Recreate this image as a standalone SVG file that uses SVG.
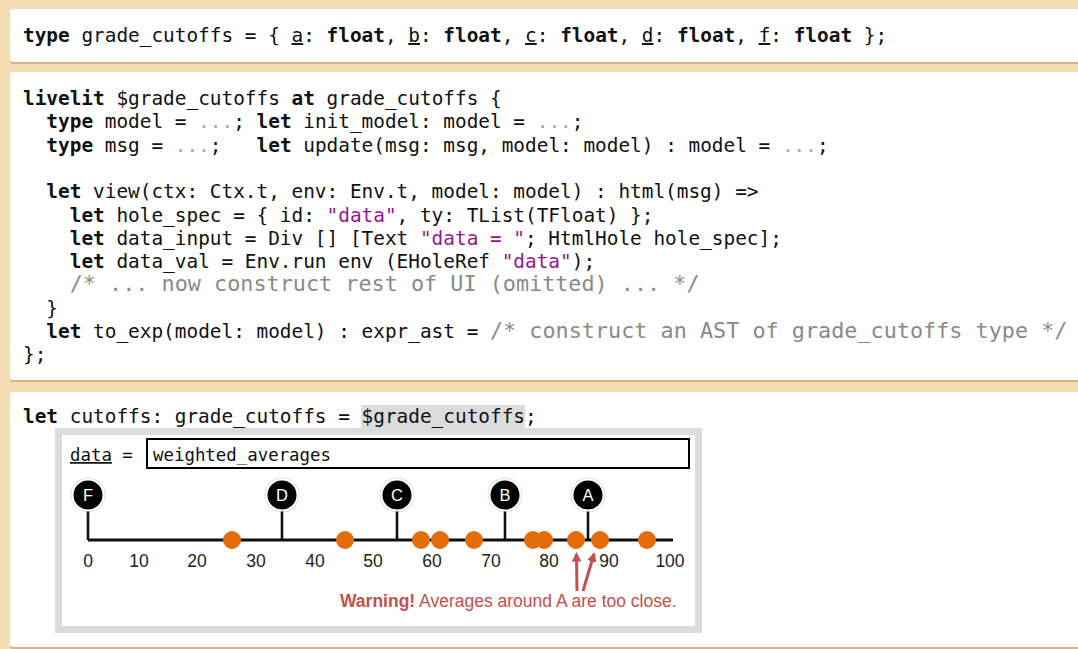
<svg xmlns="http://www.w3.org/2000/svg" width="1078" height="649" viewBox="0 0 1078 649">
  <style>
    .mono { font-family: "DejaVu Sans Mono", monospace; font-size: 19.4px; fill: #111; white-space: pre; }
    .kw { font-weight: bold; }
    .str { fill: #93168f; }
    .dim { fill: #a8a8a8; }
    .cmt { fill: #8a8a8a; font-size: 21.8px; }
    .ul { text-decoration: underline; }
    .panel { fill: #ffffff; }
    .pshadow { fill: #d4b58c; }
    .sans { font-family: "Liberation Sans", Arial, sans-serif; }
    .tick { font-size: 17.5px; fill: #222; text-anchor: middle; }
    .glabel { font-size: 16.5px; fill: #fff; text-anchor: middle; }
    .dot { fill: #e46c0a; }
    .stem { stroke: #111; stroke-width: 2.6; fill: none; }
    .warn { fill: #c4504c; }
  </style>
  <defs>
    <marker id="warnHead" viewBox="0 0 10 10" refX="8" refY="5" markerWidth="3.2" markerHeight="3.2" orient="auto">
      <path d="M0,0 L10,5 L0,10 z" fill="#c4504c"/>
    </marker>
    <g id="grade">
      <circle r="17.5" fill="#000" opacity="0.12"/>
      <circle r="16.5" fill="#fff"/>
      <circle r="14.5" fill="#000"/>
    </g>
  </defs>

  <!-- page background -->
  <rect x="0" y="0" width="1078" height="649" fill="#f5deb3"/>

  <!-- type declaration -->
  <g id="type-decl">
    <rect class="pshadow" x="10" y="11" width="1080" height="53" rx="3"/>
    <rect class="panel" x="10" y="9" width="1080" height="53" rx="3"/>
    <text class="mono" x="23" y="42" xml:space="preserve"><tspan class="kw">type</tspan> grade_cutoffs = { <tspan class="ul">a</tspan>: <tspan class="kw">float</tspan>, <tspan class="ul">b</tspan>: <tspan class="kw">float</tspan>, <tspan class="ul">c</tspan>: <tspan class="kw">float</tspan>, <tspan class="ul">d</tspan>: <tspan class="kw">float</tspan>, <tspan class="ul">f</tspan>: <tspan class="kw">float</tspan> };</text>
  </g>

  <!-- livelit definition -->
  <g id="livelit-def">
    <rect class="pshadow" x="10" y="74" width="1080" height="308" rx="3"/>
    <rect class="panel" x="10" y="72" width="1080" height="308" rx="3"/>
    <g class="mono">
      <text x="23" y="105" xml:space="preserve"><tspan class="kw">livelit</tspan> $grade_cutoffs <tspan class="kw">at</tspan> grade_cutoffs {</text>
      <text x="23" y="128.3" xml:space="preserve">  <tspan class="kw">type</tspan> model = <tspan class="dim">...</tspan>; <tspan class="kw">let</tspan> init_model: model = <tspan class="dim">...</tspan>;</text>
      <text x="23" y="151.6" xml:space="preserve">  <tspan class="kw">type</tspan> msg = <tspan class="dim">...</tspan>;   <tspan class="kw">let</tspan> update(msg: msg, model: model) : model = <tspan class="dim">...</tspan>;</text>
      <text x="23" y="198.2" xml:space="preserve">  <tspan class="kw">let</tspan> view(ctx: Ctx.t, env: Env.t, model: model) : html(msg) =&gt;</text>
      <text x="23" y="221.5" xml:space="preserve">    <tspan class="kw">let</tspan> hole_spec = { id: <tspan class="str">"data"</tspan>, ty: TList(TFloat) };</text>
      <text x="23" y="244.8" xml:space="preserve">    <tspan class="kw">let</tspan> data_input = Div [] [Text <tspan class="str">"data = "</tspan>; HtmlHole hole_spec];</text>
      <text x="23" y="268.1" xml:space="preserve">    <tspan class="kw">let</tspan> data_val = Env.run env (EHoleRef <tspan class="str">"data"</tspan>);</text>
      <text x="23" y="291.4" xml:space="preserve">    <tspan class="cmt">/* ... now construct rest of UI (omitted) ... */</tspan></text>
      <text x="23" y="314.7" xml:space="preserve">  }</text>
      <text x="23" y="338" xml:space="preserve">  <tspan class="kw">let</tspan> to_exp(model: model) : expr_ast = <tspan class="cmt">/* construct an AST of grade_cutoffs type */</tspan></text>
      <text x="23" y="361.3" xml:space="preserve">};</text>
    </g>
  </g>

  <!-- usage with embedded livelit GUI -->
  <g id="usage">
    <rect class="pshadow" x="10" y="394" width="1080" height="255" rx="3"/>
    <rect class="panel" x="10" y="392" width="1080" height="255" rx="3"/>
    <rect x="361" y="405" width="164" height="25" fill="#dcdcdc"/>
    <text class="mono" x="23" y="423" xml:space="preserve"><tspan class="kw">let</tspan> cutoffs: grade_cutoffs = $grade_cutoffs;</text>
  </g>

  <g id="livelit-gui">
    <rect x="58.5" y="431.5" width="640" height="198" fill="#fff" stroke="#dcdcdc" stroke-width="7"/>
    <text class="mono" x="70" y="461" style="font-size:17.4px" xml:space="preserve"><tspan class="ul">data</tspan> =</text>
    <rect x="147" y="439" width="542" height="29" fill="#fff" stroke="#000" stroke-width="2"/>
    <text class="mono" x="153" y="461" style="font-size:17.4px">weighted_averages</text>
  </g>

  <!-- number line -->
  <g id="axis">
    <line x1="88" y1="540" x2="673" y2="540" stroke="#111" stroke-width="3"/>
    <g class="sans tick">
      <text x="88" y="567">0</text>
      <text x="139" y="567">10</text>
      <text x="197" y="567">20</text>
      <text x="256" y="567">30</text>
      <text x="315" y="567">40</text>
      <text x="373" y="567">50</text>
      <text x="432" y="567">60</text>
      <text x="491" y="567">70</text>
      <text x="549" y="567">80</text>
      <text x="609" y="567">90</text>
      <text x="670" y="567">100</text>
    </g>
  </g>

  <!-- stems from grade markers to the axis, and warning arrows -->
  <g id="connectors">
    <path class="stem" d="M88,510 V540"/>
    <path class="stem" d="M282,510 V540"/>
    <path class="stem" d="M397,510 V540"/>
    <path class="stem" d="M505,510 V540"/>
    <path class="stem" d="M588,510 V540"/>
    <line x1="577" y1="591" x2="576.5" y2="554" stroke="#c4504c" stroke-width="3" marker-end="url(#warnHead)"/>
    <line x1="583" y1="591" x2="594" y2="554" stroke="#c4504c" stroke-width="3" marker-end="url(#warnHead)"/>
  </g>

  <!-- data points -->
  <g id="averages">
    <circle class="dot" cx="232" cy="540" r="9"/>
    <circle class="dot" cx="345" cy="540" r="9"/>
    <circle class="dot" cx="421" cy="540" r="9"/>
    <circle class="dot" cx="440" cy="540" r="9"/>
    <circle class="dot" cx="474" cy="540" r="9"/>
    <circle class="dot" cx="533" cy="540" r="9"/>
    <circle class="dot" cx="544" cy="540" r="9"/>
    <circle class="dot" cx="576" cy="540" r="9"/>
    <circle class="dot" cx="600" cy="540" r="9"/>
    <circle class="dot" cx="647" cy="540" r="9"/>
  </g>

  <!-- grade cutoff handles -->
  <g id="grade-F" transform="translate(88,495)"><use href="#grade"/><text class="sans glabel" y="6">F</text></g>
  <g id="grade-D" transform="translate(282,495)"><use href="#grade"/><text class="sans glabel" y="6">D</text></g>
  <g id="grade-C" transform="translate(397,495)"><use href="#grade"/><text class="sans glabel" y="6">C</text></g>
  <g id="grade-B" transform="translate(505,495)"><use href="#grade"/><text class="sans glabel" y="6">B</text></g>
  <g id="grade-A" transform="translate(588,495)"><use href="#grade"/><text class="sans glabel" y="6">A</text></g>

  <g id="warning">
    <text class="sans warn" x="340" y="607" style="font-size:17.5px"><tspan font-weight="bold">Warning!</tspan> Averages around A are too close.</text>
  </g>
</svg>
